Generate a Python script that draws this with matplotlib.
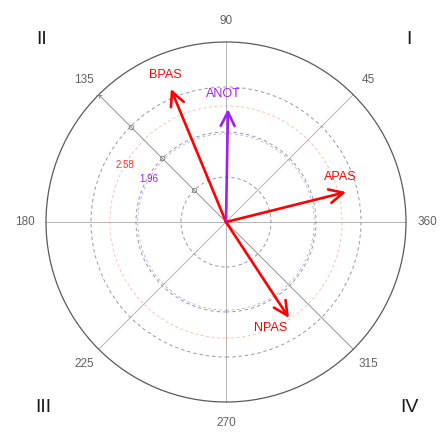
import matplotlib

matplotlib.use("Agg")

import matplotlib.pyplot as plt
import numpy as np
from matplotlib.patches import Circle, FancyArrowPatch

plt.rcParams["font.family"] = ["Liberation Sans", "DejaVu Sans"]

# scale vectors: direction in degrees, length in z units
vector_names = ["APAS", "BPAS", "ANOT", "NPAS"]
vector_angles = [14.0, 112.5, 89.0, 303.3]
vector_lengths = [2.75, 3.20, 2.51, 2.55]
vector_colors = ["#ff0000", "#ff0000", "#a020f0", "#ff0000"]
label_offsets = [(-4, 11), (-4, 10), (-3, 11), (-13, -7)]

angle_ticks = [45, 90, 135, 180, 225, 270, 315, 360]
quadrants = ["I", "II", "III", "IV"]
grid_radii = [1, 2, 3]
crit_values = [1.96, 2.58]
crit_colors = ["#a020f0", "#ff3030"]
circle_colors = ["#9b6fd6", "#f08a70"]
outer_radius = 4

PX = 45.0  # pixels per unit
W, H = 440, 432
cx, cy = 226, 222

fig = plt.figure(figsize=(W / 100, H / 100), dpi=100)
ax = fig.add_axes([0, 0, 1, 1])
ax.set_xlim(-cx / PX, (W - cx) / PX)
ax.set_ylim(-(H - cy) / PX, cy / PX)
ax.set_aspect("equal")
ax.axis("off")

# axes through the centre
for deg, col in [(0, "#b4b4b4"), (90, "#b4b4b4"), (45, "#b4b4b4"), (135, "#959595")]:
    t = np.deg2rad(deg)
    ax.plot([-outer_radius * np.cos(t), outer_radius * np.cos(t)],
            [-outer_radius * np.sin(t), outer_radius * np.sin(t)],
            color=col, lw=0.7, zorder=1)

# reference circles
for r in grid_radii:
    ax.add_patch(Circle((0, 0), r, fill=False, ec="#9a9a9a", lw=0.7,
                        ls=(0, (3.5, 3)), zorder=1))
for r, col in zip(crit_values, circle_colors):
    ax.add_patch(Circle((0, 0), r, fill=False, ec=col, lw=0.6, alpha=0.6,
                        ls=(0, (3.5, 3)), zorder=1))
ax.add_patch(Circle((0, 0), outer_radius, fill=False, ec="#5a5a5a", lw=0.9, zorder=2))

# unit marks along the 135 degree axis
t135 = np.deg2rad(135)
marks = np.array(grid_radii, dtype=float)
ax.plot(marks * np.cos(t135), marks * np.sin(t135), "o", ms=3.2, mfc="none",
        mec="#808080", mew=0.6, zorder=2)
ax.plot([outer_radius * np.cos(t135)], [outer_radius * np.sin(t135)], "+",
        ms=4, mec="#808080", mew=0.6, zorder=2)

# critical value labels
t150 = np.deg2rad(150.5)
for r, col in zip(crit_values, crit_colors):
    ax.text(r * np.cos(t150), r * np.sin(t150), f"{r:.2f}", color=col,
            fontsize=7, ha="center", va="center", zorder=3)

# angle labels
for a in angle_ticks:
    t = np.deg2rad(a)
    ax.text(4.47 * np.cos(t), 4.47 * np.sin(t), str(a), color="#606060",
            fontsize=8.5, ha="center", va="center")

# quadrant numerals
quad_pos = [(409, 39), (42, 39), (43, 407), (409, 407)]
for q, (px, py) in zip(quadrants, quad_pos):
    fig.text(px / W, 1 - py / H, q, fontsize=14, ha="center", va="center", color="#1a1a1a")

# vectors
for name, a, r, col, off in zip(vector_names, vector_angles, vector_lengths,
                                vector_colors, label_offsets):
    t = np.deg2rad(a)
    x, y = r * np.cos(t), r * np.sin(t)
    arrow = FancyArrowPatch((0, 0), (x, y), arrowstyle="->,head_length=1.0,head_width=0.5",
                            mutation_scale=10, color=col, lw=1.9,
                            shrinkA=0, shrinkB=0, zorder=4)
    ax.add_patch(arrow)
    ax.annotate(name, (x, y), xytext=off, textcoords="offset points",
                color=col, fontsize=9, ha="center", va="center", zorder=5)

fig.savefig("out.png", dpi=100)
